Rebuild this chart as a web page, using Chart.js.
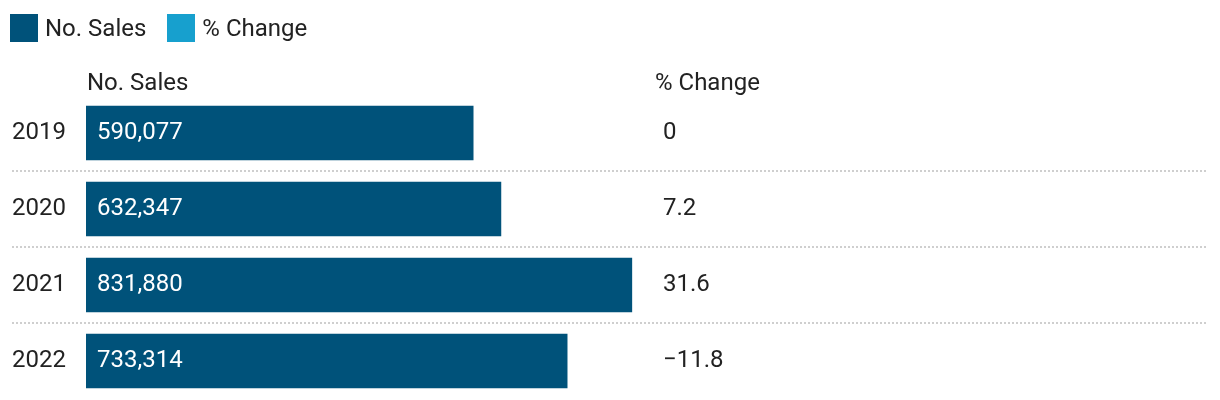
<!DOCTYPE html>
<html>
<head>
<meta charset="utf-8">
<script src="https://cdnjs.cloudflare.com/ajax/libs/Chart.js/4.4.1/chart.umd.min.js"></script>
<style>
  html,body{margin:0;padding:0;background:#fff;}
  #wrap{position:relative;width:1220px;height:400px;font-family:Roboto,sans-serif;color:#222;}
  #legend{position:absolute;left:10px;top:14px;display:flex;align-items:center;font-size:24px;line-height:28px;}
  #legend span.sw{display:inline-block;width:28px;height:28px;margin-right:7px;}
  #legend span.item{display:flex;align-items:center;margin-right:21px;}
  canvas{position:absolute;left:0;top:0;}
</style>
</head>
<body>
<div id="wrap">
  <canvas id="c" width="1220" height="400"></canvas>
  <div id="legend"></div>
</div>
<script>
// Sales by year, with year-on-year % change
const YEARS = ['2019', '2020', '2021', '2022'];
const SALES = [590077, 632347, 831880, 733314];
const PCT   = [0, 7.2, 31.6, -11.8];
const SERIES = ['No. Sales', '% Change'];
const COLORS = ['#00527a', '#17a0ce'];
const X_MAX = 1710000;

const FONT = 'Roboto, sans-serif';
const INK = '#222';

// --- HTML legend ----------------------------------------------------------
document.getElementById('legend').innerHTML = SERIES.map((s,i)=>
  `<span class="item"><span class="sw" style="background:${COLORS[i]}"></span>${s}</span>`).join('');

const fmt = v => v.toLocaleString('en-US');
const fmtPct = v => String(v).replace('-', '\u2212');

// --- Table-ish decorations: headers, separators, value labels --------------
const tablePlugin = {
  id: 'table',
  beforeDatasetsDraw(chart){
    const {ctx} = chart, y = chart.scales.y;
    ctx.save();
    ctx.strokeStyle = '#cfcfcf'; ctx.lineWidth = 2; ctx.setLineDash([2,2]);
    for (let i=0; i<YEARS.length-1; i++){
      const py = Math.round((y.getPixelForValue(i)+y.getPixelForValue(i+1))/2);
      ctx.beginPath(); ctx.moveTo(12, py); ctx.lineTo(1208, py); ctx.stroke();
    }
    ctx.restore();
  },
  afterDatasetsDraw(chart){
    const {ctx} = chart, x = chart.scales.x, y = chart.scales.y;
    ctx.save();
    ctx.font = `24px ${FONT}`;
    ctx.textAlign = 'left';
    ctx.fillStyle = INK;
    ctx.textBaseline = 'alphabetic';
    ctx.fillText(SERIES[0], 87, 90);
    ctx.fillText(SERIES[1], 655, 90);
    ctx.textBaseline = 'middle';
    SALES.forEach((v,i)=>{
      const py = y.getPixelForValue(i);
      ctx.fillStyle = '#fff';
      ctx.fillText(fmt(v), x.getPixelForValue(0)+11, py);
      ctx.fillStyle = INK;
      ctx.fillText(fmtPct(PCT[i]), 663, py);
    });
    ctx.restore();
  }
};

new Chart(document.getElementById('c'), {
  type: 'bar',
  data: { labels: YEARS, datasets: [
    { label: SERIES[0], data: SALES, backgroundColor: COLORS[0], barThickness: 54 }
  ]},
  options: {
    indexAxis: 'y', responsive: false, animation: false,
    layout: { padding: { left: 12, right: 12, top: 95, bottom: 1 } },
    plugins: { legend: { display: false }, tooltip: { enabled: false } },
    scales: {
      x: { display: false, min: 0, max: X_MAX },
      y: {
        grid: { display: false }, border: { display: false },
        ticks: { color: INK, font: { family: FONT, size: 24 }, crossAlign: 'far', padding: 0 },
        afterFit: s => { s.width = 74; s.paddingTop = 0; s.paddingBottom = 0; }
      }
    }
  },
  plugins: [tablePlugin]
});
</script>
</body>
</html>
